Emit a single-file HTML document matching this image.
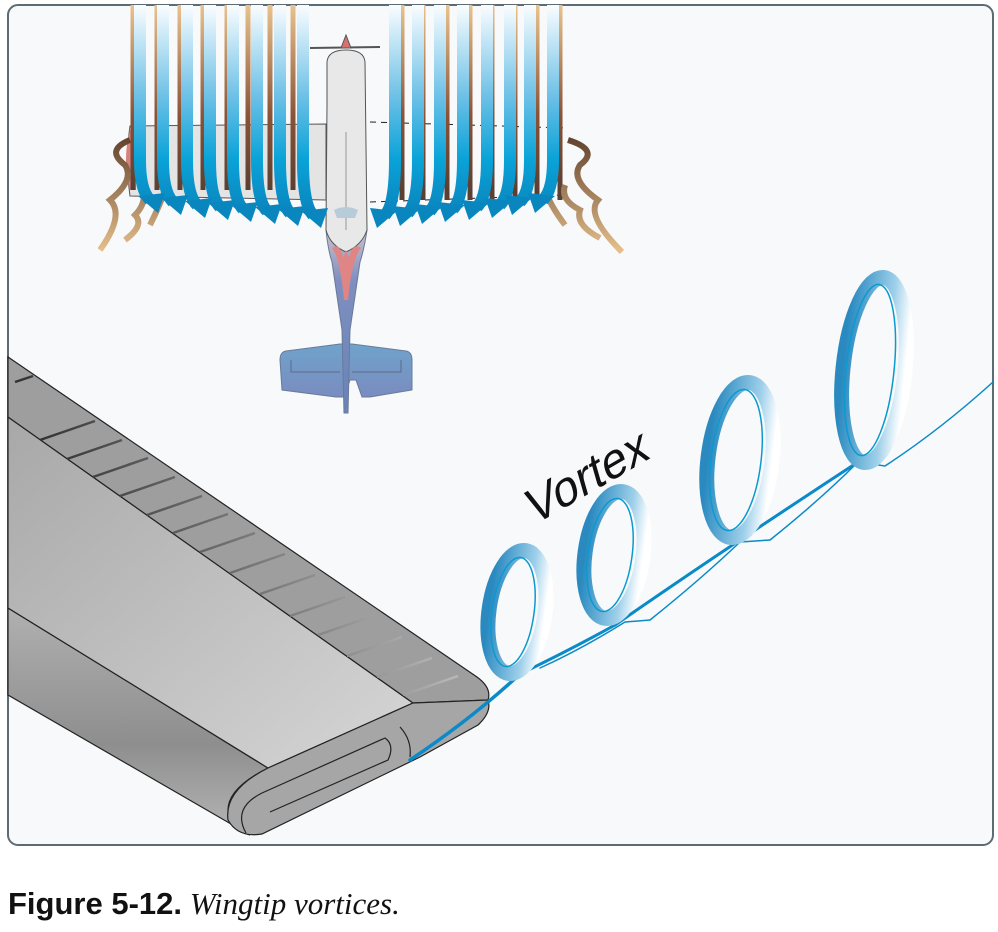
<!DOCTYPE html>
<html><head><meta charset="utf-8"><style>
html,body{margin:0;padding:0;background:#fff;width:998px;height:932px;overflow:hidden}
.cap{position:absolute;left:8px;top:886px;font-size:31px;color:#111}
.cap b{font-family:"Liberation Sans",sans-serif}
.cap i{font-family:"Liberation Serif",serif}
</style></head><body>
<svg width="998" height="860" style="position:absolute;left:0;top:0" xmlns="http://www.w3.org/2000/svg">
<defs>
<linearGradient id="bl" gradientUnits="userSpaceOnUse" x1="0" y1="5" x2="0" y2="210"><stop offset="0" stop-color="#fafdff"/><stop offset="0.45" stop-color="#6cc0e6"/><stop offset="0.75" stop-color="#0aa3d8"/><stop offset="1" stop-color="#0a86bf"/></linearGradient>
<linearGradient id="br" gradientUnits="userSpaceOnUse" x1="0" y1="5" x2="0" y2="190"><stop offset="0" stop-color="#e9c38e"/><stop offset="0.6" stop-color="#8a5236"/><stop offset="1" stop-color="#5a4032"/></linearGradient>
<linearGradient id="brw" gradientUnits="userSpaceOnUse" x1="0" y1="130" x2="0" y2="255"><stop offset="0" stop-color="#5a3a28"/><stop offset="1" stop-color="#e9c38e"/></linearGradient>
<linearGradient id="rib" x1="0" y1="0" x2="1" y2="0"><stop offset="0" stop-color="#2a8ac0"/><stop offset="0.7" stop-color="#9fd0ea"/><stop offset="1" stop-color="#ffffff"/></linearGradient>
<linearGradient id="lp" x1="0" y1="0" x2="1" y2="1"><stop offset="0" stop-color="#a8a8a8"/><stop offset="1" stop-color="#d6d6d6"/></linearGradient>
<linearGradient id="dk" x1="0" y1="0" x2="0" y2="1"><stop offset="0" stop-color="#b0b0b0"/><stop offset="0.6" stop-color="#8e8e8e"/><stop offset="1" stop-color="#b5b5b5"/></linearGradient>
<linearGradient id="tail" gradientUnits="userSpaceOnUse" x1="0" y1="230" x2="0" y2="400"><stop offset="0" stop-color="#c9c2cc"/><stop offset="0.3" stop-color="#7f8fbf"/><stop offset="1" stop-color="#6a84b8"/></linearGradient>
<linearGradient id="stab" x1="0" y1="0" x2="0" y2="1"><stop offset="0" stop-color="#6fa3cc"/><stop offset="1" stop-color="#7a8cbf"/></linearGradient>
<linearGradient id="rb" x1="0" y1="0" x2="1" y2="-0.3"><stop offset="0" stop-color="#333"/><stop offset="1" stop-color="#fff"/></linearGradient>
</defs>
<rect x="8" y="5" width="985" height="840" rx="10" fill="#f7f9fb" stroke="#5d6b75" stroke-width="2"/>

<g stroke="#555" stroke-width="1">
<path d="M130,126 L326,124 L326,200 L130,196 Q125,160 130,126 Z" fill="#e4e4e4"/>
<path d="M130,130 Q122,160 130,190 L136,190 L136,130 Z" fill="#d98080" stroke="none"/>
<path d="M286,351 L340,344 L352,344 L406,351 Q412,352 412,360 L412,390 L370,397 L362,397 L356,380 L350,380 L344,397 L336,397 L282,390 L280,360 Q280,352 286,351 Z" fill="url(#stab)" stroke="#6a7a98"/>
<path d="M291,360 L291,372 L340,372 M401,360 L401,372 L352,372" fill="none" stroke="#5a6a88"/>
<path d="M326,230 L367,230 Q364,250 360,262 L350,330 L348,413 L344,413 L342,330 L332,262 Q328,250 326,230 Z" fill="url(#tail)" stroke="#6a7a98"/>
<path d="M327,105 L327,62 Q328,50 346,50 Q364,50 365,62 L367,230 Q362,245 346,252 Q330,245 326,230 Z" fill="#e8e8e8"/>
<path d="M332,248 Q340,242 343,258 L346,250 L349,258 Q352,242 361,248 Q352,258 348,300 L344,300 Q340,258 332,248 Z" fill="#e08585" stroke="none"/>
<path d="M310,48 L380,47" stroke-width="2"/>
<path d="M346,35 L351,48 L341,48 Z" fill="#d87070"/>
<path d="M346,132 L346,230" stroke="#999"/>
<path d="M334,210 Q346,204 358,210 L355,218 L337,218 Z" fill="#b8cbd8" stroke="none"/>
</g>
<path d="M370,122 L565,128 M370,202 L565,195" stroke="#222" stroke-dasharray="6,5" fill="none"/>

<g fill="none" stroke-linecap="butt">
<g stroke="url(#br)" stroke-width="5">
<path d="M133,5 L133,190"/><path d="M157,5 L157,190"/><path d="M180,5 L180,190"/><path d="M203,5 L203,190"/><path d="M227,5 L227,190"/><path d="M248,5 L248,190"/><path d="M270,5 L270,190"/><path d="M293,5 L293,190"/>
<path d="M402,5 L402,200"/><path d="M423,5 L423,200"/><path d="M447,5 L447,200"/><path d="M470,5 L470,200"/><path d="M492,5 L492,200"/><path d="M515,5 L515,200"/><path d="M537,5 L537,200"/><path d="M560,5 L560,200"/>
</g>
<g stroke="url(#brw)" stroke-width="6">
<path d="M130,140 Q105,150 125,165 Q135,180 110,200 Q125,215 100,250"/>
<path d="M140,180 Q150,200 135,215 Q145,225 125,240"/>
<path d="M165,190 Q160,205 150,225"/>
<path d="M568,140 Q600,150 580,165 Q570,180 598,200 Q585,215 622,252"/>
<path d="M565,185 Q560,200 580,210 Q575,225 600,238"/>
<path d="M545,190 Q550,205 565,225"/>
</g>
<g stroke="url(#bl)" stroke-width="12">
<path d="M140,5 L140,160 Q140,190 150,200"/>
<path d="M163,5 L163,160 Q163,192 173,202"/>
<path d="M187,5 L187,160 Q187,195 197,205"/>
<path d="M210,5 L210,160 Q210,197 220,207"/>
<path d="M233,5 L233,160 Q233,199 243,209"/>
<path d="M257,5 L257,160 Q257,201 267,211"/>
<path d="M280,5 L280,160 Q280,203 290,213"/>
<path d="M303,5 L303,160 Q303,205 313,215"/>
<path d="M395,5 L395,160 Q395,205 385,215"/>
<path d="M418,5 L418,160 Q418,203 408,213"/>
<path d="M440,5 L440,160 Q440,201 430,211"/>
<path d="M463,5 L463,160 Q463,199 453,209"/>
<path d="M487,5 L487,160 Q487,197 477,207"/>
<path d="M510,5 L510,160 Q510,195 500,205"/>
<path d="M530,5 L530,160 Q530,192 520,202"/>
<path d="M553,5 L553,160 Q553,190 543,200"/>
</g>
</g>
<g fill="#0a86bf">
<path d="M138,196 L165,193 L158,213 Z"/><path d="M161,198 L188,195 L181,215 Z"/><path d="M185,201 L212,198 L205,218 Z"/><path d="M208,203 L235,200 L228,220 Z"/><path d="M231,205 L258,202 L251,222 Z"/><path d="M255,207 L282,204 L275,224 Z"/><path d="M278,209 L305,206 L298,226 Z"/><path d="M301,211 L328,208 L321,228 Z"/>
<path d="M397,211 L370,208 L377,228 Z"/><path d="M420,209 L393,206 L400,226 Z"/><path d="M442,207 L415,204 L422,224 Z"/><path d="M465,205 L438,202 L445,222 Z"/><path d="M489,203 L462,200 L469,220 Z"/><path d="M512,201 L485,198 L492,218 Z"/><path d="M532,198 L505,195 L512,215 Z"/><path d="M555,196 L528,193 L535,213 Z"/>
</g>

<g stroke="#222" stroke-width="1.2">
<path d="M8,608 L268,768 Q228,788 228,810 Q230,830 250,835 L8,695 Z" fill="url(#dk)"/>
<path d="M8,417 L413,703 L268,768 L8,608 Z" fill="url(#lp)"/>
<path d="M8,357 L477,677 Q492,688 488,700 L413,703 L8,417 Z" fill="#9e9e9e"/>
<path d="M268,768 L413,703 L488,700 Q492,712 478,725 L420,757 L262,834 Q238,838 228,820 Q224,790 268,768 Z" fill="#a6a6a6"/>
<path d="M400,727 Q412,740 410,757" fill="none"/>
<path d="M246,833 Q232,808 262,793 L385,738 Q395,745 388,760 L270,812" fill="none"/>
</g>
<g stroke="url(#rb)" stroke-width="2.5">
<path d="M15,382 L33,376 M40,440 L95,421 M67,459 L122,440 M93,477 L148,458 M120,496 L175,477 M147,515 L202,496 M173,533 L228,514 M200,552 L255,533 M230,573 L285,554 M260,594 L315,575 M290,616 L345,597 M318,635 L373,616 M347,656 L402,637 M377,677 L432,658 M403,695 L458,676"/>
</g>

<g fill="none" stroke="#0a8ac8" stroke-linecap="round">
<path d="M410,760 Q470,720 520,674" stroke-width="3.5"/>
<path d="M520,674 Q570,650 615,625" stroke-width="3"/>
<path d="M540,668 Q580,650 625,622 L650,620" stroke-width="1.5"/>
<path d="M615,625 Q680,580 740,540" stroke-width="3"/>
<path d="M650,620 Q700,580 740,542 L770,540" stroke-width="1.5"/>
<path d="M740,540 Q800,500 858,462" stroke-width="3"/>
<path d="M770,540 Q820,500 858,462 L885,466 Q940,430 993,382" stroke-width="1.5"/>
</g>
<g fill="none">
<ellipse cx="517" cy="612" rx="28" ry="62" transform="rotate(8 517 612)" stroke="url(#rib)" stroke-width="15"/>
<ellipse cx="614" cy="555" rx="29" ry="64" transform="rotate(8 614 555)" stroke="url(#rib)" stroke-width="15"/>
<ellipse cx="740" cy="460" rx="32" ry="78" transform="rotate(7 740 460)" stroke="url(#rib)" stroke-width="15"/>
<ellipse cx="874" cy="370" rx="31" ry="93" transform="rotate(6 874 370)" stroke="url(#rib)" stroke-width="15"/>
<ellipse cx="513" cy="612" rx="21" ry="55" transform="rotate(8 513 612)" stroke="#0a9ad0" stroke-width="1.5"/>
<ellipse cx="610" cy="555" rx="22" ry="57" transform="rotate(8 610 555)" stroke="#0a9ad0" stroke-width="1.5"/>
<ellipse cx="736" cy="460" rx="25" ry="71" transform="rotate(7 736 460)" stroke="#0a9ad0" stroke-width="1.5"/>
<ellipse cx="870" cy="370" rx="24" ry="86" transform="rotate(6 870 370)" stroke="#0a9ad0" stroke-width="1.5"/>
</g>
<text x="0" y="0" transform="translate(533,526) rotate(-30) skewX(-14)" font-family="Liberation Sans,sans-serif" font-size="48" fill="#111">Vortex</text>
</svg>
<div class="cap"><b>Figure 5-12.</b> <i>Wingtip vortices.</i></div>
</body></html>
